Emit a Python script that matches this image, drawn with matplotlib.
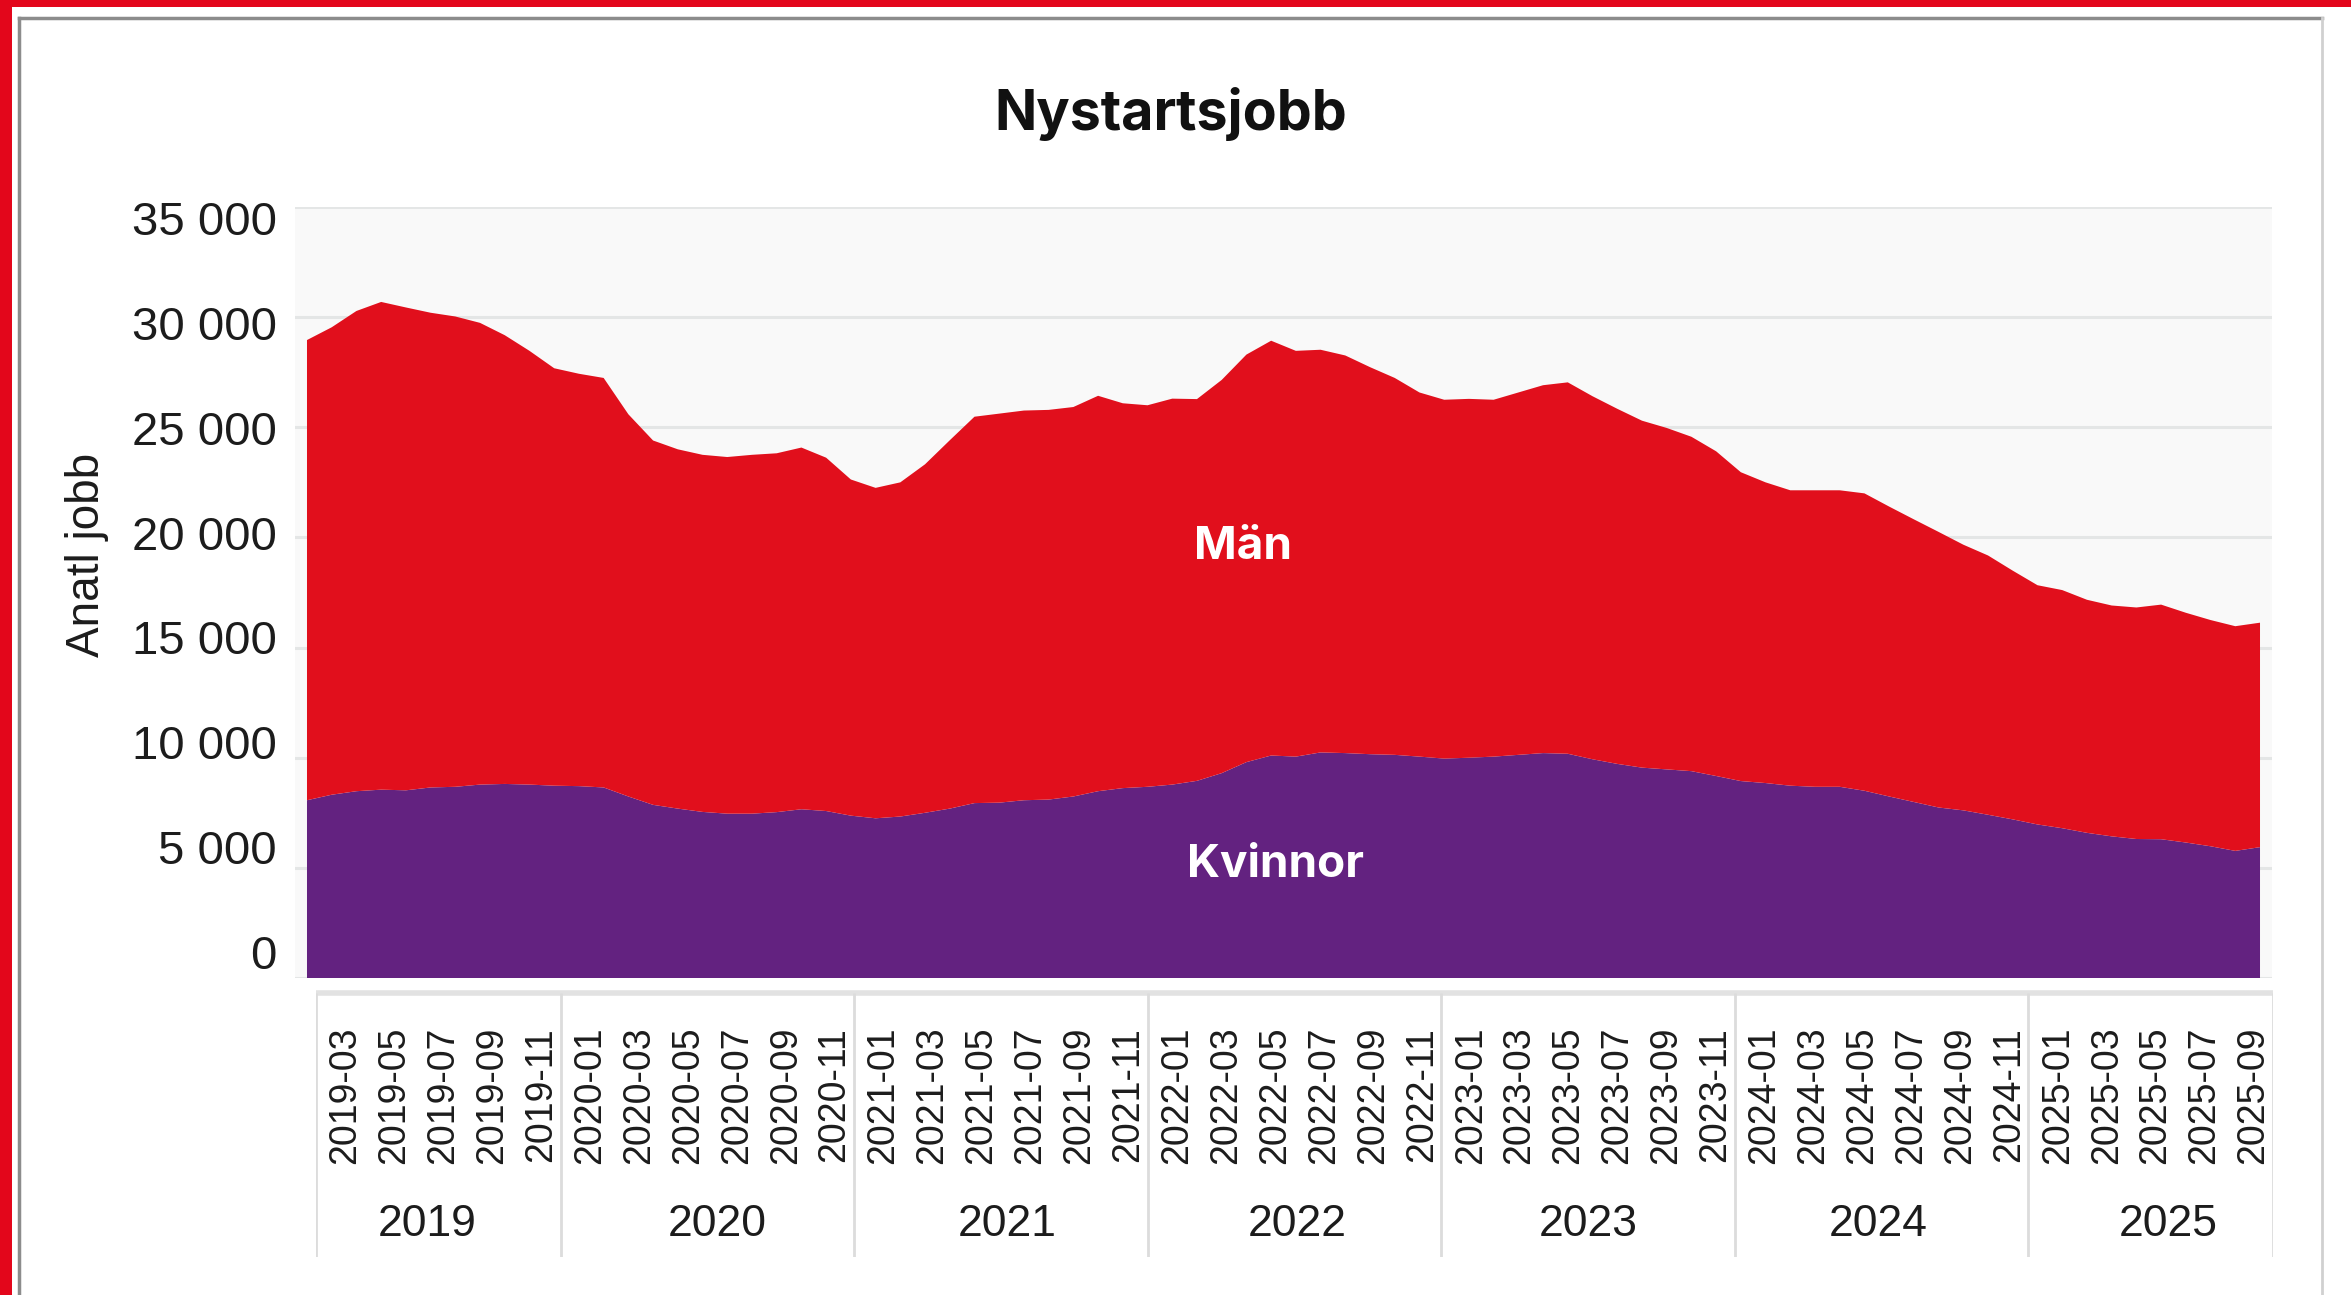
import matplotlib
matplotlib.use("Agg")
import matplotlib.pyplot as plt
from matplotlib.patches import Rectangle
from matplotlib.lines import Line2D
import numpy as np
import pandas as pd

# ---------------- data ----------------
months = [p.strftime("%Y-%m") for p in pd.period_range("2019-03", "2025-10", freq="M")]
years = ["2019", "2020", "2021", "2022", "2023", "2024", "2025"]

kvinnor = [8070, 8320, 8480, 8550, 8520, 8650, 8680, 8780, 8810, 8780,
           8730, 8710, 8650, 8240, 7860, 7690, 7540, 7460, 7460, 7530,
           7660, 7580, 7370, 7250, 7330, 7500, 7690, 7940, 7960, 8070,
           8100, 8240, 8480, 8620, 8680, 8780, 8950, 9300, 9800, 10100,
           10050, 10240, 10210, 10160, 10130, 10050, 9960, 10000, 10050, 10130,
           10210, 10180, 9930, 9720, 9550, 9470, 9390, 9170, 8940, 8850,
           8730, 8680, 8680, 8500, 8240, 7990, 7740, 7610, 7410, 7200,
           6970, 6800, 6590, 6430, 6310, 6300, 6150, 5980, 5770, 5940]

man = [20890, 21220, 21800, 22140, 21920, 21550, 21350, 20960, 20370, 19690,
       18950, 18720, 18590, 17350, 16540, 16310, 16210, 16190, 16290, 16290,
       16420, 16040, 15260, 15000, 15170, 15820, 16720, 17540, 17660, 17690,
       17690, 17680, 17950, 17470, 17320, 17520, 17330, 17850, 18500, 18830,
       18420, 18280, 18050, 17570, 17110, 16530, 16290, 16290, 16200, 16450,
       16700, 16860, 16480, 16120, 15750, 15500, 15180, 14740, 14020, 13650,
       13410, 13460, 13460, 13500, 13160, 12830, 12510, 12060, 11770, 11290,
       10860, 10810, 10580, 10480, 10510, 10650, 10430, 10270, 10200, 10190]

y_ticks = [0, 5000, 10000, 15000, 20000, 25000, 30000, 35000]
y_tick_labels = ["0", "5 000", "10 000", "15 000", "20 000", "25 000", "30 000", "35 000"]

# ---------------- style ----------------
RED = "#e10f1c"
PURPLE = "#632280"
FRAME_RED = "#e3061b"
TEXT = "#1c1c1c"
SANS = ["Liberation Sans", "DejaVu Sans"]
BOLD = ["Inter", "DejaVu Sans"]

W, H = 2351, 1295
fig = plt.figure(figsize=(W / 100, H / 100), dpi=100)
fig.patch.set_facecolor("white")


def rect(l, t, r, b):
    return [l / W, 1 - b / H, (r - l) / W, (b - t) / H]


# outer decoration: red frame and grey panel border
fig.add_artist(Rectangle((0, 1 - 7 / H), 1, 7 / H, transform=fig.transFigure,
                         facecolor=FRAME_RED, edgecolor="none", zorder=0))
fig.add_artist(Rectangle((0, 0), 12 / W, 1, transform=fig.transFigure,
                         facecolor=FRAME_RED, edgecolor="none", zorder=0))
bx0, bx1, by0 = 19 / W, 2322 / W, 1 - 18 / H
fig.add_artist(Line2D([bx0, bx1], [by0, by0], transform=fig.transFigure,
                      color="#8c8c8c", lw=2.5))
fig.add_artist(Line2D([bx0, bx0], [0, by0], transform=fig.transFigure,
                      color="#8c8c8c", lw=2.5))
fig.add_artist(Line2D([bx1, bx1], [0, by0], transform=fig.transFigure,
                      color="#d0d0d0", lw=2.0))

# ---------------- main plot ----------------
ax = fig.add_axes(rect(295, 207, 2272, 978))
ax.set_facecolor("#f9f9f9")
x = np.arange(len(months))
ax.stackplot(x, kvinnor, man, colors=[PURPLE, RED], linewidth=0, zorder=2)
ax.set_xlim(-0.485, len(months) - 1 + 0.485)
ax.set_ylim(0, 35000)
ax.set_yticks(y_ticks)
ax.yaxis.grid(True, color="#e4e6e6", linewidth=2.2)
ax.set_axisbelow(True)
ax.tick_params(left=False, bottom=False, labelleft=False, labelbottom=False)
for s in ax.spines.values():
    s.set_visible(False)

ax.text(37.86, 19020, "Män", ha="center", va="baseline", color="white",
        fontsize=33, fontweight="bold", family=BOLD, zorder=5)
ax.text(39.16, 4585, "Kvinnor", ha="center", va="baseline", color="white",
        fontsize=33, fontweight="bold", family=BOLD, zorder=5)

# y tick labels (rendered slightly compressed relative to the grid, as in the original)
lab = fig.add_axes(rect(295, 207, 2272, 978), frameon=False)
lab.patch.set_visible(False)
lab.set_ylim(-1235, 35522)
lab.set_xticks([])
lab.set_yticks(y_ticks)
lab.set_yticklabels(y_tick_labels, family=SANS, fontsize=34, color=TEXT)
lab.tick_params(axis="y", length=0, pad=13)

fig.text(87 / W, 1 - 555 / H, "Anatl jobb", rotation=90, ha="center", va="center",
         fontsize=33, family=SANS, color=TEXT)

fig.text(1171 / W, 1 - 130 / H, "Nystartsjobb", ha="center", va="baseline",
         fontsize=40, fontweight="bold", family=BOLD, color="#111111")

# ---------------- two-level category axis ----------------
cat = fig.add_axes(rect(316, 993, 2273, 1257))
cat.set_xlim(0, len(months))
cat.set_ylim(1, 0)
cat.axis("off")
cat.plot([0, len(months)], [0, 0], color="#e2e2e2", lw=4, clip_on=False,
         solid_capstyle="butt")
bounds = [0] + [i for i, m in enumerate(months) if m.endswith("-01")] + [len(months)]
cat.vlines(bounds, 0, 1, color="#dcdcdc", lw=2)

for i in range(0, len(months), 2):
    cat.text(i + 0.5 + 0.7, 0.128, months[i], rotation=90, ha="center", va="top",
             fontsize=27, family=SANS, color=TEXT)

# year labels sit on an even ~11.86-bin rhythm, as in the original rendering
for k, yr in enumerate(years):
    c = 4.55 + 11.86 * k
    cat.text(c, 0.875, yr, ha="center", va="center", fontsize=32,
             family=SANS, color=TEXT)

fig.savefig("out.png", dpi=100, facecolor="white")
